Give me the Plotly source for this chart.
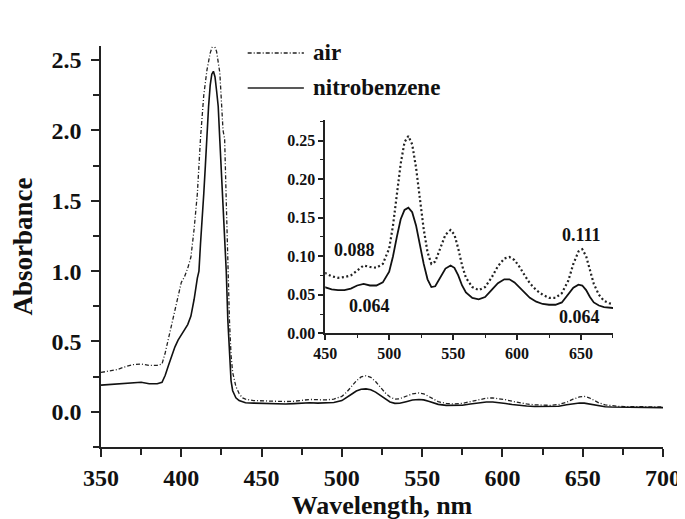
import plotly.graph_objects as go

# ---- data ----
wl_air = [350, 355, 360, 365, 370, 375, 380, 385, 388, 390, 392, 394, 396, 398, 400, 402, 404, 406, 408, 410,
          412, 414, 416, 418, 420, 422, 424, 426, 427, 428, 429, 430, 431, 432, 434, 436, 438, 440, 445, 450,
          455, 460, 465, 470, 475, 480, 485, 490, 495, 500, 503, 506, 509, 512, 515, 518, 521, 524, 527, 530,
          533, 536, 540, 544, 548, 551, 554, 557, 560, 565, 570, 575, 580, 585, 590, 594, 598, 602, 606, 610,
          615, 620, 625, 630, 635, 640, 644, 648, 651, 654, 657, 660, 664, 668, 672, 676, 680, 690, 700]
abs_air = [0.28, 0.29, 0.30, 0.32, 0.335, 0.34, 0.33, 0.33, 0.34, 0.42, 0.52, 0.62, 0.73, 0.84, 0.92, 0.96, 1.02, 1.10, 1.30, 1.55,
           1.95, 2.25, 2.43, 2.55, 2.62, 2.56, 2.41, 2.00, 1.94, 1.50, 1.00, 0.65, 0.40, 0.28, 0.18, 0.13, 0.10, 0.09, 0.08, 0.078,
           0.074, 0.072, 0.073, 0.075, 0.082, 0.088, 0.086, 0.085, 0.090, 0.110, 0.140, 0.180, 0.220, 0.248, 0.256, 0.245, 0.215, 0.175, 0.135, 0.105,
           0.090, 0.093, 0.110, 0.128, 0.134, 0.128, 0.110, 0.088, 0.072, 0.060, 0.056, 0.060, 0.072, 0.087, 0.097, 0.099, 0.095, 0.086, 0.075, 0.065,
           0.056, 0.050, 0.046, 0.046, 0.052, 0.068, 0.090, 0.106, 0.109, 0.100, 0.082, 0.064, 0.050, 0.042, 0.039, 0.037, 0.036, 0.035, 0.035]

wl_nb = [350, 355, 360, 365, 370, 375, 380, 385, 388, 390, 392, 394, 396, 398, 400, 402, 404, 406, 408, 410,
         411, 412, 413, 414, 415, 416, 417, 418, 419, 420, 421, 422, 423, 424, 425, 426, 427, 428, 429, 430,
         431, 432, 434, 436, 438, 440, 445, 450, 455, 460, 465, 470, 475, 480, 485, 490, 495, 500, 503, 506,
         509, 512, 515, 518, 521, 524, 527, 530, 533, 536, 540, 544, 548, 551, 554, 557, 560, 565, 570, 575,
         580, 585, 590, 594, 598, 602, 606, 610, 615, 620, 625, 630, 635, 640, 644, 648, 651, 654, 657, 660,
         664, 668, 672, 676, 680, 690, 700]
abs_nb = [0.19, 0.195, 0.20, 0.20, 0.205, 0.21, 0.20, 0.20, 0.21, 0.26, 0.33, 0.40, 0.46, 0.51, 0.55, 0.59, 0.62, 0.68, 0.80, 0.95,
          1.00, 1.20, 1.35, 1.55, 1.75, 1.98, 2.17, 2.32, 2.40, 2.42, 2.38, 2.28, 2.17, 1.93, 1.70, 1.45, 1.23, 1.00, 0.65, 0.38,
          0.22, 0.15, 0.10, 0.08, 0.07, 0.065, 0.062, 0.060, 0.057, 0.056, 0.056, 0.058, 0.062, 0.064, 0.062, 0.062, 0.066, 0.080, 0.100, 0.125,
          0.148, 0.160, 0.163, 0.157, 0.140, 0.115, 0.090, 0.070, 0.060, 0.061, 0.072, 0.084, 0.088, 0.085, 0.075, 0.062, 0.053, 0.046, 0.044, 0.047,
          0.056, 0.065, 0.070, 0.070, 0.066, 0.059, 0.052, 0.046, 0.041, 0.038, 0.037, 0.037, 0.040, 0.050, 0.059, 0.063, 0.062, 0.056, 0.047, 0.040,
          0.036, 0.034, 0.033, 0.033, 0.032, 0.031, 0.030]

series_names = ["air", "nitrobenzene"]
inset_labels = ["0.088", "0.064", "0.111", "0.064"]
inset_label_x = [473, 485, 650, 649]
inset_label_y = [0.108, 0.036, 0.127, 0.021]

FONT = "Liberation Serif"

fig = go.Figure()
# main plot
fig.add_trace(go.Scatter(x=wl_air, y=abs_air, mode="lines", name=series_names[0],
                         line=dict(color="#222", width=1.3, dash="4px,2px,1px,2px"), showlegend=False))
fig.add_trace(go.Scatter(x=wl_nb, y=abs_nb, mode="lines", name=series_names[1],
                         line=dict(color="#111", width=1.6), showlegend=False))
# inset
fig.add_trace(go.Scatter(x=wl_air, y=abs_air, mode="lines", name=series_names[0], xaxis="x2", yaxis="y2",
                         line=dict(color="#222", width=2.2, dash="2px,2.5px"), showlegend=False))
fig.add_trace(go.Scatter(x=wl_nb, y=abs_nb, mode="lines", name=series_names[1], xaxis="x2", yaxis="y2",
                         line=dict(color="#111", width=1.8), showlegend=False))

axis_common = dict(showline=True, linecolor="#222", linewidth=1.5, ticks="outside", tickcolor="#222",
                   tickwidth=1.5, showgrid=False, zeroline=False, mirror=False)

fig.update_layout(
    width=685, height=519,
    margin=dict(l=92, r=19, t=38, b=79),
    paper_bgcolor="white", plot_bgcolor="white",
    font=dict(family=FONT, color="#111", weight="bold"),
    xaxis=dict(**axis_common, range=[350, 700], dtick=50, ticklen=8,
               minor=dict(dtick=25, ticks="outside", ticklen=6, tickcolor="#222", tickwidth=1.5),
               tickfont=dict(size=24, family=FONT, weight="bold"),
               title=dict(text="Wavelength, nm", font=dict(size=26, family=FONT, weight="bold"), standoff=6)),
    yaxis=dict(**axis_common, range=[-0.25, 2.6], dtick=0.5, tick0=0, ticklen=8, tickformat=".1f",
               ticklabelstandoff=5,
               minor=dict(dtick=0.25, ticks="outside", ticklen=6, tickcolor="#222", tickwidth=1.5),
               tickfont=dict(size=24, family=FONT, weight="bold"),
               title=dict(text="Absorbance", font=dict(size=27, family=FONT, weight="bold"), standoff=13)),
    xaxis2=dict(**axis_common, domain=[0.399, 0.911], anchor="y2", range=[450, 675], dtick=50, ticklen=5,
                minor=dict(dtick=25, ticks="outside", ticklen=3, tickcolor="#222", tickwidth=1.2),
                tickfont=dict(size=16, family=FONT, weight="bold")),
    yaxis2=dict(**axis_common, domain=[0.2836, 0.816], anchor="x2", range=[0, 0.277], dtick=0.05, ticklen=5,
                tickformat=".2f",
                minor=dict(dtick=0.025, ticks="outside", ticklen=3, tickcolor="#222", tickwidth=1.2),
                tickfont=dict(size=16, family=FONT, weight="bold")),
)

# inset value labels
for t, x, y in zip(inset_labels, inset_label_x, inset_label_y):
    fig.add_annotation(x=x, y=y, xref="x2", yref="y2", text=t, showarrow=False,
                       font=dict(size=18, family=FONT, weight="bold", color="#111"))

# legend (drawn manually to match the long sample lines)
leg_y = [0.9826, 0.8955]
leg_dash = ["4px,2px,1px,2px", "solid"]
for name, y, d in zip(series_names, leg_y, leg_dash):
    fig.add_shape(type="line", xref="paper", yref="paper", x0=0.261, x1=0.361, y0=y, y1=y,
                  line=dict(color="#222", width=1.5, dash=d))
    fig.add_annotation(x=0.374, y=y, xref="paper", yref="paper", text=name, showarrow=False,
                       xanchor="left", yanchor="middle",
                       font=dict(size=23, family=FONT, weight="bold", color="#111"))

fig.write_html("out.html")
